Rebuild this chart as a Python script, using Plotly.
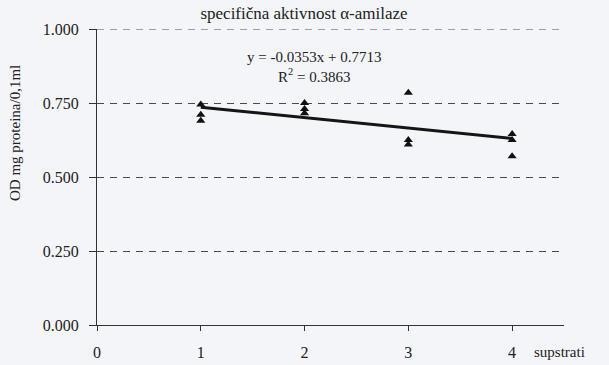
import plotly.graph_objects as go
import numpy as np

# data
x_vals = [1, 1, 1, 2, 2, 2, 3, 3, 3, 4, 4, 4]
y_vals = [0.745, 0.710, 0.690, 0.750, 0.730, 0.715, 0.785, 0.625, 0.610, 0.645, 0.625, 0.570]
slope = -0.0353
intercept = 0.7713
r2 = 0.3863
y_ticks = [0.0, 0.25, 0.5, 0.75, 1.0]
x_ticks = [0, 1, 2, 3, 4]

line_x = np.array([min(x_vals), max(x_vals)], dtype=float)
line_y = slope * line_x + intercept

font = "Liberation Serif"
bg = "#f3f5f9"
tc = "#222222"
grid_color = "#4a4a4a"
grid_dash = "7px,6px"

W, H = 609, 365
ML, MR, MT, MB = 97, 45, 29, 40
PW, PH = W - ML - MR, H - MT - MB


def px(x):
    return (x - ML) / PW


def py(y):
    return (H - MB - y) / PH


fig = go.Figure()
fig.add_trace(go.Scatter(x=line_x, y=line_y, mode="lines",
                         line=dict(color="#151515", width=3), showlegend=False))
fig.add_trace(go.Scatter(x=x_vals, y=y_vals, mode="markers",
                         marker=dict(symbol="triangle-up", size=8, color="#111111"),
                         showlegend=False))

fig.update_layout(
    width=W, height=H,
    margin=dict(l=ML, r=MR, t=MT, b=MB, autoexpand=False),
    paper_bgcolor=bg, plot_bgcolor=bg,
    font=dict(family=font, size=16, color=tc),
    title=dict(text="specifična aktivnost α-amilaze", x=304 / W, xanchor="center",
               y=1 - 13 / H, yanchor="middle", font=dict(family=font, size=17, color=tc)),
    showlegend=False,
)
fig.update_xaxes(range=[0, 4.5], tickvals=x_ticks, ticktext=[str(v) for v in x_ticks],
                 showgrid=False, zeroline=False, showline=True, linecolor="#333333",
                 linewidth=1, ticks="outside", ticklen=5, tickcolor="#333333",
                 ticklabelstandoff=8, automargin=False,
                 tickfont=dict(family=font, size=16, color=tc))
fig.update_yaxes(range=[0, 1.0], tickvals=y_ticks, ticktext=[f"{v:.3f}" for v in y_ticks],
                 showgrid=True, gridcolor=grid_color, griddash=grid_dash, gridwidth=1.2,
                 zeroline=False, showline=True, linecolor="#333333", linewidth=1,
                 ticks="outside", ticklen=7, tickcolor="#333333", automargin=False,
                 ticklabelstandoff=7, tickfont=dict(family=font, size=16, color=tc))

# top gridline (plotly skips the gridline lying on the range edge)
fig.add_shape(type="line", xref="paper", x0=0, x1=1, yref="y", y0=y_ticks[-1], y1=y_ticks[-1],
              line=dict(color=grid_color, width=1.2, dash=grid_dash), layer="below")

fig.add_annotation(x=px(532), y=py(352), xref="paper", yref="paper", text="supstrati",
                   showarrow=False, xanchor="left", yanchor="middle",
                   font=dict(family=font, size=15, color=tc))
fig.add_annotation(x=px(15), y=py(133), xref="paper", yref="paper",
                   text="OD mg proteina/0,1ml", textangle=-90,
                   showarrow=False, xanchor="center", yanchor="middle",
                   font=dict(family=font, size=15, color=tc))
fig.add_annotation(x=px(314), y=py(67), xref="paper", yref="paper",
                   text=f"y = {slope}x + {intercept}<br>R<sup>2</sup> = {r2}",
                   showarrow=False, xanchor="center", yanchor="middle",
                   font=dict(family=font, size=15, color=tc))

fig.write_html("out.html")
